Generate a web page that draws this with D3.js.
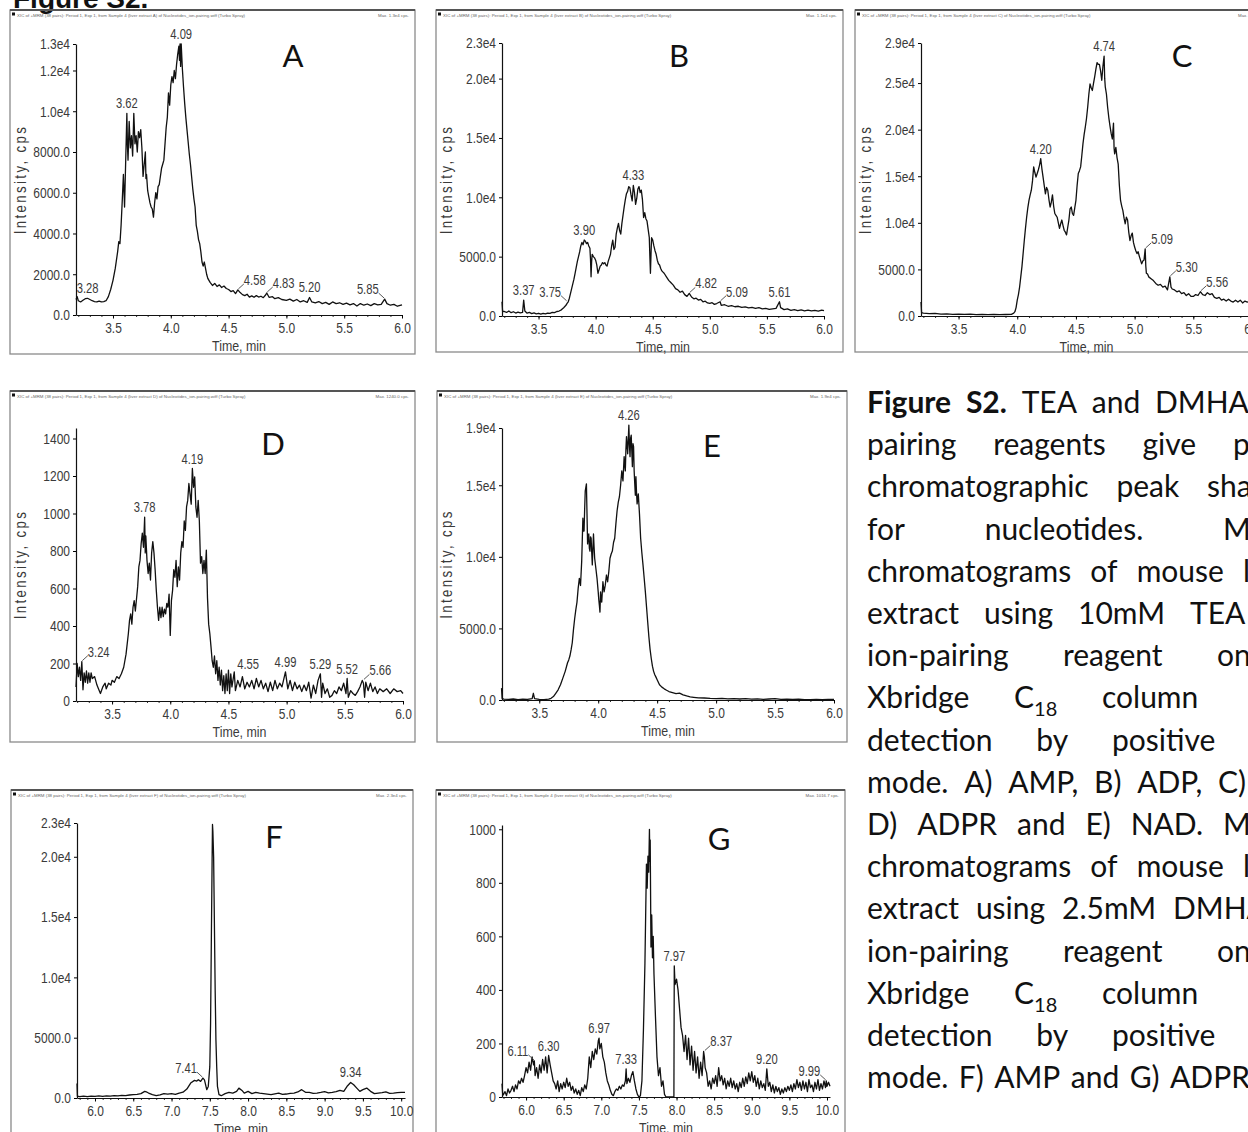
<!DOCTYPE html>
<html>
<head>
<meta charset="utf-8">
<script src="https://cdn.jsdelivr.net/npm/d3@7"></script>
<style>
  body { margin: 0; background: #fff; overflow: hidden; }
  svg { display: block; }
</style>
</head>
<body>
<script>
//Declare VARIABLES
const w = 1248
const h = 1132
const sans = '"Liberation Sans",Arial,sans-serif'
const capFont = 'Lato,"Open Sans",sans-serif'

////////////DATA////////////
// x ticks (TEA runs and DMHA runs)
const xTicksTEA = [3.5, 4.0, 4.5, 5.0, 5.5, 6.0]
const xLabelsTEA = ['3.5', '4.0', '4.5', '5.0', '5.5', '6.0']
const xTicksDMHA = [6.0, 6.5, 7.0, 7.5, 8.0, 8.5, 9.0, 9.5, 10.0]
const xLabelsDMHA = ['6.0', '6.5', '7.0', '7.5', '8.0', '8.5', '9.0', '9.5', '10.0']

// y ticks per panel
const yTicksA = [0, 2000, 4000, 6000, 8000, 10000, 12000, 13300]
const yLabelsA = ['0.0', '2000.0', '4000.0', '6000.0', '8000.0', '1.0e4', '1.2e4', '1.3e4']
const yTicksB = [0, 5000, 10000, 15000, 20000, 23000]
const yLabelsB = ['0.0', '5000.0', '1.0e4', '1.5e4', '2.0e4', '2.3e4']
const yTicksC = [0, 5000, 10000, 15000, 20000, 25000, 29300]
const yLabelsC = ['0.0', '5000.0', '1.0e4', '1.5e4', '2.0e4', '2.5e4', '2.9e4']
const yTicksD = [0, 200, 400, 600, 800, 1000, 1200, 1400]
const yLabelsD = ['0', '200', '400', '600', '800', '1000', '1200', '1400']
const yTicksE = [0, 5000, 10000, 15000, 19000]
const yLabelsE = ['0.0', '5000.0', '1.0e4', '1.5e4', '1.9e4']
const yTicksF = [0, 5000, 10000, 15000, 20000, 22800]
const yLabelsF = ['0.0', '5000.0', '1.0e4', '1.5e4', '2.0e4', '2.3e4']
const yTicksG = [0, 200, 400, 600, 800, 1000]
const yLabelsG = ['0', '200', '400', '600', '800', '1000']

// chromatograms [time min, intensity cps]
const traceA = [[3.18,760],[3.19,900],[3.20,700],[3.22,640],[3.24,720],[3.26,800],[3.28,820],[3.30,760],[3.32,700],[3.34,660],[3.36,640],[3.38,680],[3.40,640],[3.42,660],[3.44,700],[3.46,900],[3.48,1250],[3.50,1700],[3.52,2300],[3.54,3100],[3.55,3600],[3.56,3500],[3.57,4400],[3.58,5600],[3.59,6900],[3.60,5300],[3.61,7600],[3.62,9900],[3.625,8300],[3.63,7600],[3.64,9500],[3.65,8200],[3.66,8800],[3.67,7800],[3.68,9900],[3.69,8400],[3.70,8800],[3.71,8000],[3.72,9000],[3.73,8700],[3.74,9100],[3.75,8200],[3.76,6800],[3.77,7400],[3.78,8000],[3.785,6700],[3.79,6900],[3.80,6100],[3.81,5800],[3.82,5500],[3.83,5300],[3.84,5200],[3.85,4800],[3.86,5500],[3.87,6000],[3.88,5700],[3.89,6300],[3.90,6400],[3.91,6800],[3.92,7200],[3.93,7400],[3.94,7600],[3.95,8400],[3.96,9200],[3.97,9700],[3.98,10900],[3.99,10300],[4.00,11300],[4.01,11700],[4.02,11400],[4.03,12000],[4.04,11600],[4.05,12300],[4.06,12800],[4.07,13200],[4.075,12500],[4.08,13300],[4.085,12200],[4.09,13300],[4.095,12700],[4.10,12100],[4.11,11200],[4.12,10400],[4.13,9700],[4.14,9100],[4.15,8500],[4.16,7900],[4.17,7400],[4.18,6800],[4.19,6200],[4.20,5700],[4.21,5300],[4.22,4400],[4.23,4100],[4.24,3700],[4.25,3500],[4.26,3100],[4.27,2600],[4.28,2400],[4.29,2600],[4.30,2300],[4.31,2000],[4.32,1800],[4.34,1600],[4.36,1450],[4.38,1550],[4.40,1400],[4.42,1480],[4.44,1350],[4.46,1420],[4.48,1300],[4.50,1250],[4.52,1150],[4.54,1200],[4.56,1050],[4.58,1230],[4.60,1100],[4.62,1000],[4.64,950],[4.66,1020],[4.68,880],[4.70,940],[4.72,870],[4.74,950],[4.76,880],[4.78,920],[4.80,850],[4.82,980],[4.83,1080],[4.85,870],[4.88,900],[4.90,800],[4.93,850],[4.96,760],[5.00,720],[5.03,780],[5.06,680],[5.09,760],[5.12,640],[5.15,700],[5.18,620],[5.20,860],[5.22,640],[5.25,600],[5.28,660],[5.31,560],[5.34,620],[5.37,520],[5.40,640],[5.43,560],[5.46,600],[5.49,520],[5.52,580],[5.55,500],[5.58,560],[5.61,440],[5.64,560],[5.67,480],[5.70,540],[5.73,460],[5.76,560],[5.79,500],[5.82,520],[5.85,780],[5.87,560],[5.90,480],[5.93,520],[5.96,430],[6.00,500]]

const traceB = [[3.18,1200],[3.185,400],[3.20,380],[3.22,300],[3.24,420],[3.26,280],[3.28,360],[3.30,250],[3.32,330],[3.34,260],[3.36,300],[3.37,1340],[3.38,420],[3.40,240],[3.42,300],[3.44,200],[3.46,260],[3.48,180],[3.50,230],[3.52,160],[3.54,220],[3.56,180],[3.58,250],[3.60,220],[3.62,300],[3.64,280],[3.66,380],[3.68,420],[3.70,520],[3.72,700],[3.74,900],[3.75,1060],[3.76,1200],[3.77,1500],[3.78,1900],[3.79,2300],[3.80,2700],[3.81,3100],[3.82,3600],[3.83,4100],[3.84,4600],[3.85,5000],[3.86,5400],[3.87,5900],[3.88,6200],[3.89,6000],[3.90,6400],[3.91,6300],[3.92,6100],[3.93,6200],[3.94,5900],[3.95,5700],[3.955,4800],[3.96,3300],[3.965,4600],[3.97,5200],[3.98,5000],[3.99,4900],[4.00,4700],[4.01,4300],[4.02,3600],[4.03,3900],[4.04,4200],[4.05,4300],[4.06,4500],[4.07,4400],[4.08,4500],[4.09,4300],[4.10,4200],[4.11,4600],[4.12,4900],[4.13,5200],[4.14,5900],[4.15,6400],[4.16,5600],[4.17,5800],[4.18,6900],[4.19,7400],[4.20,7800],[4.21,7200],[4.22,6900],[4.23,7800],[4.24,8500],[4.25,9200],[4.26,9800],[4.27,10300],[4.28,10500],[4.29,10900],[4.30,10800],[4.31,10200],[4.32,9700],[4.33,11000],[4.34,10400],[4.35,9400],[4.36,9900],[4.37,10700],[4.38,10900],[4.39,10400],[4.40,10600],[4.41,9800],[4.42,8300],[4.43,8700],[4.44,8200],[4.45,8000],[4.46,7300],[4.47,6600],[4.475,5000],[4.48,3600],[4.485,5200],[4.49,6600],[4.50,6400],[4.51,5900],[4.52,5500],[4.53,5200],[4.54,4700],[4.55,4400],[4.56,4300],[4.57,4000],[4.58,3800],[4.59,3700],[4.60,3600],[4.62,3300],[4.64,3000],[4.66,2800],[4.68,2600],[4.70,2300],[4.72,2200],[4.74,2000],[4.76,2100],[4.78,1800],[4.80,1650],[4.82,1900],[4.84,1600],[4.86,1450],[4.88,1500],[4.90,1340],[4.92,1400],[4.94,1200],[4.96,1250],[4.98,1100],[5.00,1060],[5.02,1120],[5.04,980],[5.06,1050],[5.09,1200],[5.10,900],[5.13,950],[5.16,820],[5.19,880],[5.22,780],[5.25,820],[5.28,720],[5.31,760],[5.34,680],[5.37,720],[5.40,640],[5.43,700],[5.46,600],[5.49,640],[5.52,560],[5.55,600],[5.58,640],[5.61,1200],[5.62,700],[5.65,540],[5.68,600],[5.71,480],[5.74,540],[5.77,460],[5.80,520],[5.83,440],[5.86,500],[5.89,430],[5.92,480],[5.95,420],[5.98,500],[6.00,460]]

const traceC = [[3.18,1500],[3.185,350],[3.20,300],[3.25,250],[3.30,280],[3.35,200],[3.40,230],[3.45,180],[3.50,210],[3.55,170],[3.60,200],[3.65,150],[3.70,180],[3.75,140],[3.80,170],[3.85,150],[3.90,160],[3.95,180],[3.97,300],[3.98,460],[3.99,900],[4.00,1700],[4.01,2300],[4.02,3100],[4.03,4200],[4.04,5300],[4.05,6700],[4.06,8100],[4.07,9400],[4.08,10600],[4.09,11600],[4.10,12400],[4.11,13000],[4.12,13500],[4.13,14500],[4.14,16000],[4.15,15400],[4.16,14900],[4.17,15300],[4.18,15700],[4.19,16200],[4.20,16900],[4.21,15800],[4.22,14900],[4.23,14000],[4.24,13100],[4.25,13800],[4.26,13500],[4.27,12500],[4.28,11700],[4.29,12200],[4.30,13000],[4.31,11800],[4.32,11000],[4.33,10800],[4.34,10600],[4.35,10000],[4.36,9400],[4.37,9900],[4.38,10300],[4.39,9700],[4.40,9200],[4.41,9000],[4.42,8700],[4.43,9500],[4.44,10300],[4.45,11500],[4.46,11700],[4.47,11000],[4.48,10800],[4.49,11600],[4.50,12400],[4.51,14000],[4.52,15300],[4.53,15600],[4.54,16000],[4.55,17200],[4.56,18500],[4.57,19500],[4.58,20300],[4.59,21200],[4.60,22400],[4.61,23800],[4.62,24900],[4.63,24500],[4.64,24200],[4.65,25000],[4.66,25700],[4.67,26500],[4.68,27200],[4.69,27000],[4.70,27000],[4.71,26300],[4.72,25300],[4.73,26800],[4.74,27900],[4.745,25500],[4.75,24600],[4.76,23800],[4.77,22400],[4.78,21300],[4.79,20400],[4.80,19600],[4.81,19000],[4.82,20700],[4.825,18000],[4.83,17400],[4.84,18100],[4.85,17000],[4.86,16300],[4.87,14000],[4.88,12400],[4.89,11800],[4.90,11300],[4.91,10500],[4.92,9900],[4.93,10600],[4.94,10300],[4.95,9000],[4.96,8100],[4.97,8600],[4.98,8900],[4.99,7900],[5.00,7400],[5.01,7000],[5.02,6700],[5.03,6900],[5.04,6400],[5.05,6000],[5.06,5600],[5.07,5900],[5.08,6000],[5.09,7200],[5.095,5400],[5.10,4600],[5.11,4500],[5.12,4200],[5.14,4000],[5.16,3800],[5.18,3500],[5.20,3300],[5.22,3400],[5.24,3100],[5.26,3200],[5.28,2800],[5.30,4200],[5.31,3100],[5.32,2900],[5.34,2800],[5.36,2600],[5.38,2700],[5.40,2400],[5.42,2500],[5.44,2200],[5.46,2400],[5.48,2100],[5.50,2100],[5.52,2300],[5.54,2200],[5.56,2600],[5.58,2300],[5.60,2200],[5.62,2500],[5.64,2300],[5.66,2400],[5.68,2000],[5.70,1900],[5.72,2000],[5.74,1700],[5.76,1800],[5.78,1600],[5.80,1800],[5.82,1600],[5.84,1500],[5.86,1700],[5.88,1500],[5.90,1700],[5.92,1400],[5.94,1600],[5.96,1500],[6.00,1550]]

const traceD = [[3.19,75],[3.20,200],[3.21,130],[3.22,180],[3.23,110],[3.24,210],[3.25,60],[3.26,150],[3.27,100],[3.28,160],[3.29,95],[3.30,150],[3.31,100],[3.32,150],[3.33,120],[3.35,130],[3.37,85],[3.39,55],[3.40,40],[3.42,75],[3.44,95],[3.45,65],[3.47,95],[3.49,85],[3.50,110],[3.52,100],[3.54,130],[3.56,120],[3.58,145],[3.60,180],[3.62,250],[3.64,360],[3.65,430],[3.66,465],[3.67,410],[3.68,500],[3.69,535],[3.70,480],[3.72,610],[3.73,715],[3.74,750],[3.75,840],[3.76,895],[3.77,820],[3.78,980],[3.785,790],[3.79,880],[3.80,750],[3.81,680],[3.82,735],[3.83,645],[3.84,790],[3.85,850],[3.86,790],[3.87,700],[3.88,590],[3.89,500],[3.90,430],[3.91,500],[3.92,445],[3.93,500],[3.94,450],[3.95,490],[3.96,465],[3.97,520],[3.98,500],[3.99,570],[4.00,350],[4.01,535],[4.02,590],[4.03,700],[4.04,660],[4.05,750],[4.06,610],[4.07,715],[4.08,645],[4.09,790],[4.10,850],[4.11,820],[4.12,960],[4.13,910],[4.14,1035],[4.15,1070],[4.16,1160],[4.17,1105],[4.18,1050],[4.19,1240],[4.20,1140],[4.21,1195],[4.22,1035],[4.23,980],[4.24,1070],[4.25,960],[4.26,735],[4.27,770],[4.28,680],[4.29,750],[4.30,680],[4.31,805],[4.32,550],[4.33,410],[4.34,360],[4.35,290],[4.36,215],[4.37,180],[4.38,240],[4.39,145],[4.40,215],[4.41,110],[4.42,180],[4.43,85],[4.44,165],[4.45,55],[4.46,135],[4.47,40],[4.48,145],[4.49,55],[4.50,165],[4.51,40],[4.52,145],[4.53,75],[4.55,155],[4.56,55],[4.58,110],[4.60,75],[4.62,130],[4.64,65],[4.66,100],[4.68,75],[4.70,110],[4.72,65],[4.74,120],[4.76,75],[4.78,110],[4.80,65],[4.82,95],[4.84,50],[4.86,100],[4.88,55],[4.90,110],[4.92,65],[4.94,95],[4.96,75],[4.99,155],[5.01,65],[5.03,110],[5.05,55],[5.07,100],[5.09,65],[5.11,85],[5.13,50],[5.15,85],[5.17,55],[5.19,100],[5.21,15],[5.23,85],[5.25,40],[5.27,110],[5.29,145],[5.30,20],[5.31,95],[5.33,40],[5.35,65],[5.37,20],[5.39,30],[5.41,55],[5.43,40],[5.45,75],[5.47,55],[5.49,95],[5.51,40],[5.52,120],[5.53,20],[5.55,55],[5.57,40],[5.59,30],[5.61,50],[5.63,75],[5.65,110],[5.66,95],[5.67,20],[5.68,100],[5.70,55],[5.72,95],[5.74,50],[5.76,75],[5.78,40],[5.80,65],[5.83,50],[5.86,65],[5.89,40],[5.92,65],[5.95,50],[5.98,55],[6.00,40]]

const traceE = [[3.18,830],[3.185,100],[3.20,60],[3.24,40],[3.28,70],[3.32,30],[3.36,60],[3.40,40],[3.44,90],[3.45,470],[3.46,100],[3.50,50],[3.54,30],[3.58,60],[3.60,120],[3.62,240],[3.64,470],[3.66,710],[3.68,1060],[3.70,1530],[3.72,2000],[3.74,2600],[3.75,2800],[3.76,3070],[3.77,3500],[3.78,4000],[3.79,4900],[3.80,5660],[3.81,6300],[3.82,6840],[3.83,7800],[3.84,8500],[3.85,8000],[3.86,9700],[3.865,11200],[3.87,12700],[3.875,11800],[3.88,11800],[3.885,13300],[3.89,14600],[3.90,15100],[3.905,13000],[3.91,10900],[3.915,11500],[3.92,11600],[3.925,10600],[3.93,10400],[3.935,11400],[3.94,11300],[3.945,10300],[3.95,9440],[3.955,10600],[3.96,11600],[3.965,10700],[3.97,9900],[3.98,9200],[3.99,8500],[4.00,7550],[4.005,7000],[4.01,6600],[4.015,6140],[4.02,7550],[4.025,7100],[4.03,6840],[4.04,8260],[4.05,7550],[4.06,8020],[4.07,8730],[4.08,8260],[4.09,8970],[4.10,9900],[4.11,10200],[4.12,10400],[4.13,11000],[4.14,11300],[4.15,12300],[4.16,13200],[4.17,13800],[4.18,14200],[4.19,15000],[4.20,16000],[4.21,15300],[4.22,17000],[4.225,16400],[4.23,16000],[4.235,17500],[4.24,18400],[4.25,17200],[4.255,18200],[4.26,19200],[4.265,17800],[4.27,17000],[4.275,18300],[4.28,18500],[4.285,17400],[4.29,16300],[4.295,17900],[4.30,17700],[4.305,16000],[4.31,15100],[4.315,14300],[4.32,15600],[4.325,14500],[4.33,13700],[4.34,14400],[4.35,13000],[4.36,11300],[4.37,10300],[4.38,9440],[4.39,8500],[4.40,7550],[4.41,6500],[4.42,5430],[4.43,4400],[4.44,3540],[4.45,2900],[4.46,2360],[4.47,2000],[4.48,1770],[4.49,1600],[4.50,1420],[4.52,1060],[4.54,900],[4.56,780],[4.58,680],[4.60,590],[4.63,520],[4.66,450],[4.69,480],[4.72,360],[4.75,280],[4.78,220],[4.81,190],[4.85,150],[4.90,140],[4.95,110],[5.00,95],[5.05,120],[5.10,80],[5.15,100],[5.20,70],[5.25,90],[5.30,60],[5.35,80],[5.40,50],[5.45,70],[5.50,95],[5.55,40],[5.60,60],[5.65,35],[5.70,55],[5.75,30],[5.80,25],[5.85,45],[5.90,30],[5.95,50],[6.00,40]]

const traceF = [[5.765,1200],[5.77,150],[5.80,120],[5.85,160],[5.90,110],[5.95,150],[6.00,130],[6.05,170],[6.10,140],[6.15,180],[6.20,150],[6.25,200],[6.30,170],[6.35,220],[6.40,200],[6.45,250],[6.50,280],[6.55,300],[6.60,360],[6.65,550],[6.68,480],[6.70,410],[6.75,280],[6.80,190],[6.85,260],[6.90,360],[6.95,320],[7.00,360],[7.05,300],[7.10,410],[7.15,480],[7.20,740],[7.25,1240],[7.30,1460],[7.33,1400],[7.35,1510],[7.38,1380],[7.41,1650],[7.43,1500],[7.44,1240],[7.46,690],[7.48,960],[7.50,2600],[7.51,6190],[7.52,13060],[7.53,19660],[7.535,22680],[7.54,22130],[7.55,19940],[7.56,14440],[7.57,8940],[7.58,4810],[7.59,2610],[7.60,960],[7.62,280],[7.65,190],[7.70,360],[7.75,470],[7.80,410],[7.85,550],[7.88,820],[7.92,630],[7.95,410],[8.00,550],[8.05,360],[8.10,470],[8.15,400],[8.20,360],[8.25,320],[8.30,280],[8.35,350],[8.40,410],[8.45,300],[8.50,330],[8.55,380],[8.60,410],[8.65,500],[8.70,690],[8.75,470],[8.80,470],[8.85,380],[8.90,410],[8.95,460],[9.00,520],[9.05,430],[9.10,470],[9.15,520],[9.20,630],[9.25,550],[9.30,1020],[9.34,1290],[9.38,1100],[9.42,820],[9.46,550],[9.50,690],[9.55,820],[9.60,550],[9.65,360],[9.70,410],[9.75,450],[9.80,500],[9.85,380],[9.90,410],[9.95,450],[10.00,470],[10.05,470]]

const traceG = [[5.68,50],[5.69,6],[5.70,10],[5.72,20],[5.74,5],[5.76,30],[5.78,15],[5.80,25],[5.82,40],[5.84,20],[5.86,45],[5.88,30],[5.90,60],[5.92,50],[5.94,70],[5.96,55],[5.98,80],[6.00,110],[6.02,90],[6.04,130],[6.06,100],[6.08,150],[6.10,120],[6.11,135],[6.12,80],[6.14,110],[6.16,70],[6.18,120],[6.20,90],[6.22,140],[6.24,100],[6.26,150],[6.28,90],[6.30,155],[6.32,120],[6.34,90],[6.36,60],[6.38,50],[6.40,30],[6.42,60],[6.44,20],[6.46,50],[6.48,30],[6.50,55],[6.52,35],[6.54,70],[6.56,40],[6.58,55],[6.60,25],[6.62,40],[6.64,15],[6.66,30],[6.68,10],[6.70,25],[6.72,5],[6.74,35],[6.76,20],[6.78,45],[6.80,30],[6.82,70],[6.84,150],[6.86,110],[6.88,170],[6.90,140],[6.92,180],[6.94,160],[6.96,210],[6.97,220],[6.98,180],[7.00,200],[7.02,150],[7.04,130],[7.06,90],[7.08,60],[7.10,45],[7.12,25],[7.14,10],[7.16,5],[7.18,20],[7.20,30],[7.22,25],[7.24,40],[7.26,30],[7.28,45],[7.30,40],[7.32,60],[7.33,105],[7.34,50],[7.36,70],[7.38,55],[7.40,80],[7.42,95],[7.44,60],[7.46,30],[7.48,10],[7.50,0],[7.52,5],[7.54,60],[7.56,250],[7.58,500],[7.60,870],[7.61,780],[7.62,900],[7.63,840],[7.64,1000],[7.645,880],[7.65,960],[7.66,560],[7.67,680],[7.68,520],[7.69,600],[7.70,460],[7.72,300],[7.74,150],[7.76,80],[7.78,110],[7.80,40],[7.82,60],[7.84,10],[7.86,0],[7.90,0],[7.94,0],[7.965,0],[7.97,490],[7.98,420],[8.00,440],[8.02,400],[8.04,330],[8.06,260],[8.08,230],[8.10,170],[8.12,230],[8.14,140],[8.16,220],[8.18,120],[8.20,190],[8.22,100],[8.24,170],[8.26,90],[8.28,150],[8.30,70],[8.32,130],[8.34,80],[8.36,170],[8.37,150],[8.38,110],[8.40,90],[8.42,40],[8.44,60],[8.46,30],[8.48,70],[8.50,50],[8.52,80],[8.54,40],[8.56,110],[8.58,60],[8.60,80],[8.62,45],[8.64,70],[8.66,30],[8.68,60],[8.70,40],[8.72,70],[8.74,35],[8.76,60],[8.78,30],[8.80,50],[8.82,20],[8.84,55],[8.86,35],[8.88,70],[8.90,40],[8.92,75],[8.94,50],[8.96,90],[8.98,60],[9.00,95],[9.02,55],[9.04,80],[9.06,40],[9.08,70],[9.10,30],[9.12,60],[9.14,35],[9.16,50],[9.18,25],[9.20,105],[9.22,40],[9.24,55],[9.26,20],[9.28,45],[9.30,15],[9.32,40],[9.34,20],[9.36,35],[9.38,10],[9.40,30],[9.42,15],[9.44,35],[9.46,20],[9.48,40],[9.50,25],[9.52,45],[9.54,20],[9.56,50],[9.58,30],[9.60,65],[9.62,35],[9.64,55],[9.66,25],[9.68,60],[9.70,30],[9.72,55],[9.74,20],[9.76,65],[9.78,35],[9.80,45],[9.82,20],[9.84,55],[9.86,30],[9.88,65],[9.90,25],[9.92,50],[9.94,30],[9.96,60],[9.98,35],[9.99,60],[10.00,40],[10.02,55],[10.04,40]]

// peak labels [time, text, kind]  c = above, r = right with leader, l = left with leader, R = right no leader
const peaksA = [[3.28,'3.28','c'],[3.62,'3.62','c'],[4.09,'4.09','c'],[4.58,'4.58','r'],[4.83,'4.83','r'],[5.20,'5.20','c'],[5.85,'5.85','l']]
const peaksB = [[3.37,'3.37','c'],[3.75,'3.75','l'],[3.90,'3.90','c'],[4.33,'4.33','c'],[4.82,'4.82','r'],[5.09,'5.09','r'],[5.61,'5.61','c']]
const peaksC = [[4.20,'4.20','c'],[4.74,'4.74','c'],[5.09,'5.09','r'],[5.30,'5.30','r'],[5.56,'5.56','r']]
const peaksD = [[3.24,'3.24','r'],[3.78,'3.78','c'],[4.19,'4.19','c'],[4.55,'4.55','R'],[4.99,'4.99','c'],[5.29,'5.29','c'],[5.52,'5.52','c'],[5.66,'5.66','r']]
const peaksE = [[4.26,'4.26','c']]
const peaksF = [[7.41,'7.41','l'],[9.34,'9.34','c']]
const peaksG = [[6.11,'6.11','l'],[6.30,'6.30','c'],[6.97,'6.97','c'],[7.33,'7.33','c'],[7.97,'7.97','c'],[8.37,'8.37','r'],[9.20,'9.20','c'],[9.99,'9.99','l']]

// caption lines [text, x of last word]
const captionLines = [
  ['Figure S2. TEA and DMHA', 1155],
  ['pairing reagents give poor', 1233],
  ['chromatographic peak shapes', 1207],
  ['for nucleotides. MRM', 1223],
  ['chromatograms of mouse liver', 1243],
  ['extract using 10mM TEA', 1190],
  ['ion-pairing reagent on', 1217],
  ['Xbridge C_18 column', 1102],
  ['detection by positive', 1112],
  ['mode. A) AMP, B) ADP, C)', 1218],
  ['D) ADPR and E) NAD. MRM', 1223],
  ['chromatograms of mouse liver', 1243],
  ['extract using 2.5mM DMHA', 1173],
  ['ion-pairing reagent on', 1217],
  ['Xbridge C_18 column', 1102],
  ['detection by positive', 1112],
  ['mode. F) AMP and G) ADPR.', 1170]
]

////////////LAYOUT////////////
const panels = [
  { id: 'A', trace: traceA, peaks: peaksA, frame: [10, 10, 405, 344], plot: [76, 402, 44, 315], xd: [3.18, 6.0], yd: [0, 13300], xt: xTicksTEA, xl: xLabelsTEA, yt: yTicksA, yl: yLabelsA, letter: [293, 67], yTitle: true, max: '1.3e4' },
  { id: 'B', trace: traceB, peaks: peaksB, frame: [436, 10, 407, 342], plot: [502, 824, 43, 316], xd: [3.18, 6.0], yd: [0, 23000], xt: xTicksTEA, xl: xLabelsTEA, yt: yTicksB, yl: yLabelsB, letter: [679, 67], yTitle: true, max: '1.1e4' },
  { id: 'C', trace: traceC, peaks: peaksC, frame: [855, 10, 420, 342], plot: [921, 1252, 43, 316], xd: [3.18, 6.0], yd: [0, 29300], xt: xTicksTEA, xl: xLabelsTEA, yt: yTicksC, yl: yLabelsC, letter: [1182, 67], yTitle: true, max: '2.8e4' },
  { id: 'D', trace: traceD, peaks: peaksD, frame: [10, 391, 405, 351], plot: [76, 403, 428, 701], xd: [3.19, 6.0], yd: [0, 1456], xt: xTicksTEA, xl: xLabelsTEA, yt: yTicksD, yl: yLabelsD, letter: [273, 455], yTitle: true, max: '1240.0' },
  { id: 'E', trace: traceE, peaks: peaksE, frame: [437, 391, 410, 351], plot: [502, 834, 428, 700], xd: [3.184, 6.0], yd: [0, 19000], xt: xTicksTEA, xl: xLabelsTEA, yt: yTicksE, yl: yLabelsE, letter: [712, 457], yTitle: true, max: '1.9e4' },
  { id: 'F', trace: traceF, peaks: peaksF, frame: [11, 790, 402, 400], plot: [77, 405, 823, 1098], xd: [5.765, 10.05], yd: [0, 22800], xt: xTicksDMHA, xl: xLabelsDMHA, yt: yTicksF, yl: yLabelsF, letter: [274, 848], yTitle: false, max: '2.3e4' },
  { id: 'G', trace: traceG, peaks: peaksG, frame: [436, 790, 409, 400], plot: [502, 830, 825, 1097], xd: [5.68, 10.04], yd: [0, 1016], xt: xTicksDMHA, xl: xLabelsDMHA, yt: yTicksG, yl: yLabelsG, letter: [719, 850], yTitle: false, max: '1016.7' }
]

//Declare SVG
const svg = d3.select('body')
            .append('svg')
            .attr('width', w)
            .attr('height', h)

//Top heading (cut by page edge)
svg.append('text')
  .attr('x', 13)
  .attr('y', 8)
  .style('font-family', sans)
  .style('font-weight', 'bold')
  .style('font-size', '28px')
  .attr('fill', '#111')
  .text('Figure S2.')

// condensed Analyst-style label: squeeze horizontally around its anchor
function narrowLabel(g, tx, ty, size, anchor, str) {
  return g.append('text')
    .attr('transform', 'translate(' + tx + ',' + ty + ') scale(0.8,1)')
    .attr('text-anchor', anchor)
    .style('font-family', sans).style('font-size', size + 'px').attr('fill', '#3a3a3a')
    .text(str)
}

function drawPanel(p) {
  const g = svg.append('g')
  const [fx, fy, fw, fh] = p.frame
  const [x0, x1, y0, y1] = p.plot

  //frame + header strip
  g.append('rect')
    .attr('x', fx).attr('y', fy).attr('width', fw).attr('height', fh)
    .attr('fill', 'none').attr('stroke', '#8a8a8a').attr('stroke-width', 1.3)
  g.append('line')
    .attr('x1', fx).attr('x2', fx + fw).attr('y1', fy).attr('y2', fy)
    .attr('stroke', '#555').attr('stroke-width', 2)
  g.append('rect')
    .attr('x', fx + 2).attr('y', fy + 2.5).attr('width', 3).attr('height', 3).attr('fill', '#111')
  g.append('text')
    .attr('x', fx + 7).attr('y', fy + 6.5)
    .style('font-family', sans).style('font-size', '4.4px')
    .attr('fill', '#666')
    .text('XIC of +MRM (38 pairs): Period 1, Exp 1, from Sample 4 (liver extract ' + p.id + ') of Nucleotides_ion-pairing.wiff (Turbo Spray)')
  g.append('text')
    .attr('x', fx + fw - 6).attr('y', fy + 6.5).attr('text-anchor', 'end')
    .style('font-family', sans).style('font-size', '4.4px')
    .attr('fill', '#666')
    .text('Max. ' + p.max + ' cps.')

  //scales
  const x = d3.scaleLinear().domain(p.xd).range([x0, x1])
  const y = d3.scaleLinear().domain(p.yd).range([y1, y0])

  //minor x ticks
  const minor = d3.range(Math.ceil(p.xd[0] * 10), Math.floor(p.xd[1] * 10 + 0.001) + 1).map(d => d / 10)
  g.append('g')
    .attr('transform', 'translate(0,' + y1 + ')')
    .call(d3.axisBottom(x).tickValues(minor).tickSize(2).tickFormat(''))
    .call(s => s.select('.domain').remove())
    .selectAll('line').attr('stroke', '#333')

  //x axis
  const xa = g.append('g')
    .attr('transform', 'translate(0,' + y1 + ')')
    .call(d3.axisBottom(x).tickValues(p.xt).tickSize(3.5).tickSizeOuter(0).tickPadding(4)
      .tickFormat(d => p.xl[p.xt.indexOf(d)]))
  xa.select('.domain').attr('stroke', '#111').attr('stroke-width', 1.2)
  xa.selectAll('text').style('font-family', sans).style('font-size', '15px').attr('fill', '#3a3a3a')
    .attr('transform', 'scale(0.8,1)')

  //y axis
  const ya = g.append('g')
    .attr('transform', 'translate(' + x0 + ',0)')
    .call(d3.axisLeft(y).tickValues(p.yt).tickSize(3).tickSizeOuter(0).tickPadding(4.5)
      .tickFormat(d => p.yl[p.yt.indexOf(d)]))
  ya.select('.domain').attr('stroke', '#111').attr('stroke-width', 1.2)
  ya.selectAll('text').style('font-family', sans).style('font-size', '15px').attr('fill', '#3a3a3a')
    .attr('transform', 'scale(0.8,1)')

  //axis titles
  narrowLabel(g, (x0 + x1) / 2, y1 + 36, 15.5, 'middle', 'Time, min')
  if (p.yTitle) {
    g.append('text')
      .attr('transform', 'translate(' + (x0 - 50) + ',' + ((y0 + y1) / 2) + ') rotate(-90) scale(0.8,1)')
      .attr('text-anchor', 'middle')
      .style('font-family', sans).style('font-size', '16.5px').style('letter-spacing', '3px').attr('fill', '#3a3a3a')
      .text('Intensity, cps')
  }

  //trace
  g.append('path')
    .datum(p.trace)
    .attr('d', d3.line().x(d => x(d[0])).y(d => y(d[1])))
    .attr('fill', 'none')
    .attr('stroke', '#111')
    .attr('stroke-width', 1.3)
    .attr('stroke-linejoin', 'round')

  //peak labels
  p.peaks.forEach(pk => {
    const near = p.trace.filter(d => Math.abs(d[0] - pk[0]) <= 0.012)
    const v = d3.max(near, d => d[1])
    const px = x(pk[0]), py = y(v)
    if (pk[2] === 'c') {
      narrowLabel(g, px, py - 5, 14, 'middle', pk[1])
    } else if (pk[2] === 'R') {
      narrowLabel(g, px + 3, py - 3, 14, 'start', pk[1])
    } else if (pk[2] === 'r') {
      narrowLabel(g, px + 6, py - 5, 14, 'start', pk[1])
      g.append('line').attr('x1', px + 0.5).attr('y1', py - 1).attr('x2', px + 6).attr('y2', py - 6)
        .attr('stroke', '#444').attr('stroke-width', 0.9)
    } else {
      narrowLabel(g, px - 6, py - 5, 14, 'end', pk[1])
      g.append('line').attr('x1', px - 0.5).attr('y1', py - 1).attr('x2', px - 6).attr('y2', py - 6)
        .attr('stroke', '#444').attr('stroke-width', 0.9)
    }
  })

  //panel letter
  g.append('text')
    .attr('x', p.letter[0]).attr('y', p.letter[1])
    .attr('text-anchor', 'middle')
    .style('font-family', capFont).style('font-size', '31px').attr('fill', '#111')
    .text(p.id)
}

panels.forEach(drawPanel)

////////////Caption (justified lines)////////////
const capX = 867
captionLines.forEach((ln, i) => {
  const base = 413 + i * 42.2
  const words = ln[0].split(' ')
  const nodes = words.map((wd, j) => {
    const t = svg.append('text')
      .attr('y', base)
      .style('font-family', capFont).style('font-size', '30px').attr('fill', '#111')
    if (i === 0 && j < 2) t.style('font-weight', 'bold')
    if (wd.indexOf('_') > -1) {
      const parts = wd.split('_')
      t.append('tspan').text(parts[0])
      t.append('tspan').attr('dy', 8).style('font-size', '20px').text(parts[1])
    } else {
      t.text(wd)
    }
    return t
  })
  const widths = nodes.map(n => n.node().getComputedTextLength())
  const n = words.length
  const gap = (ln[1] - capX - d3.sum(widths.slice(0, n - 1))) / (n - 1)
  let cx = capX
  nodes.forEach((t, j) => {
    t.attr('x', cx)
    cx += widths[j] + gap
  })
})
</script>
</body>
</html>
